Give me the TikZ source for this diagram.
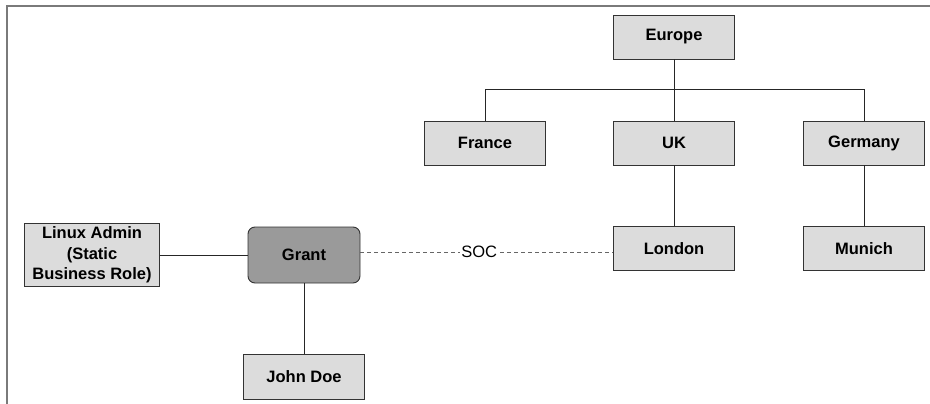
\documentclass[tikz,border=0pt]{standalone}
\usepackage{fontspec}
\setmainfont{Liberation Sans}
\definecolor{boxgray}{HTML}{DCDCDC}
\definecolor{grantgray}{HTML}{9A9A9A}
\definecolor{edgegray}{HTML}{333333}
\definecolor{framegray}{HTML}{7A7A7A}
\begin{document}
\begin{tikzpicture}[x=1pt,y=-1pt,
  font=\fontsize{16.5}{20.5}\selectfont\bfseries,
  unit/.style={rectangle,draw=edgegray,fill=boxgray,line width=0.9pt,
    minimum width=121pt,minimum height=44pt,inner sep=2pt,align=center},
  person/.style={unit,fill=grantgray,rounded corners=7pt,
    minimum width=112pt,minimum height=56pt},
  link/.style={line width=0.8pt,draw=black!85},
  soc/.style={link,dash pattern=on 4pt off 3pt,draw=black!60}]
\useasboundingbox (0,0) rectangle (930,404);
\draw[framegray,line width=1.4pt] (930,6) -- (7,6) -- (7,404);

\node[unit] (europe) at (674,37) {Europe};
\coordinate (bus) at (674,89);
\node[unit] (france) at (485,143) {France};
\node[unit] (uk) at (674,143) {UK};
\node[unit] (germany) at (864,143) {Germany};
\draw[link] (europe) -- (bus);
\draw[link] (bus) -| (france);
\draw[link] (bus) -- (uk);
\draw[link] (bus) -| (germany);

\node[unit] (london) at (674,248.5) {London};
\draw[link] (uk) -- (london);
\node[unit] (munich) at (864,248.5) {Munich};
\draw[link] (germany) -- (munich);

\node[person] (grant) at (304,255) {Grant};
\node[unit,minimum width=135pt,minimum height=63pt] (linux) at (92,255)
  {Linux Admin\\(Static\\Business Role)};
\draw[link] (linux) -- (grant);
\node[unit,minimum height=45pt] (john) at (304,376.5) {John Doe};
\draw[link] (grant) -- (john);

\draw[soc] ([yshift=3pt]grant.east) -- ([yshift=-3.5pt]london.west)
  node[pos=0.47,fill=white,inner sep=1pt,font=\fontsize{16.5}{20.5}\selectfont] (soclabel) {SOC};
\end{tikzpicture}
\end{document}
